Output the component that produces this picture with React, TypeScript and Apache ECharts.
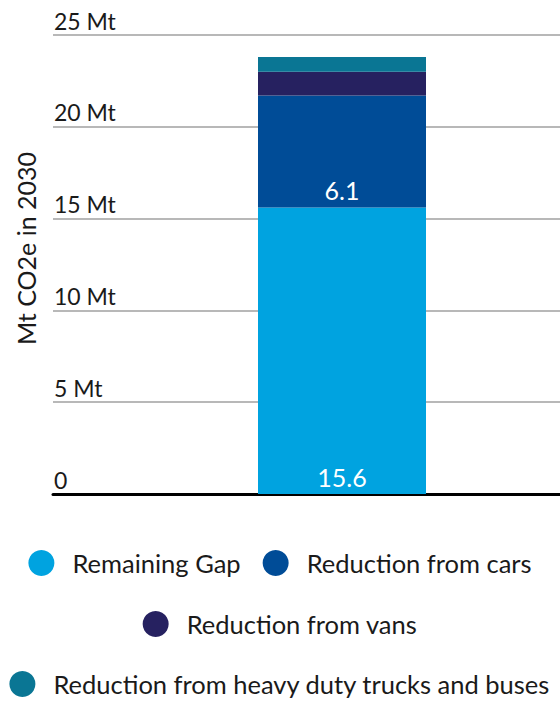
import React, { useEffect, useRef } from "react";
import * as echarts from "echarts";

const CATEGORIES = ["2030"];
const SERIES_NAMES = [
  "Remaining Gap",
  "Reduction from cars",
  "Reduction from vans",
  "Reduction from heavy duty trucks and buses",
];
const REMAINING_GAP = [15.6];
const REDUCTION_CARS = [6.1];
const REDUCTION_VANS = [1.3];
const REDUCTION_TRUCKS_BUSES = [0.8];
const LABELLED = [true, true, false, false];
const COLORS = ["#00a3e0", "#004c97", "#262160", "#0a7694"];
const Y_TICKS = [0, 5, 10, 15, 20, 25];

const FONT = "Lato, sans-serif";
const TEXT = "#1a1a1a";

export default function App() {
  const ref = useRef<HTMLDivElement>(null);

  useEffect(() => {
    document.body.style.margin = "0";
    if (!ref.current) return;
    const chart = echarts.init(ref.current, null, { renderer: "svg" });

    const values = [REMAINING_GAP, REDUCTION_CARS, REDUCTION_VANS, REDUCTION_TRUCKS_BUSES];
    const series = SERIES_NAMES.map((name, i) => ({
      name,
      type: "bar",
      xAxisIndex: 1,
      yAxisIndex: 1,
      stack: "total",
      barWidth: 168,
      data: values[i],
      itemStyle: { color: COLORS[i] },
      label: {
        show: LABELLED[i],
        position: "insideBottom",
        distance: 5,
        color: "#ffffff",
        fontFamily: FONT,
        fontSize: 25,
      },
    }));

    const legendBase = {
      left: "center",
      icon: "circle",
      itemWidth: 26,
      itemHeight: 26,
      itemGap: 22,
      padding: 0,
      selectedMode: false,
      textStyle: {
        fontFamily: FONT,
        fontSize: 25.5,
        color: TEXT,
        padding: [0, 0, 0, 13],
      },
    };

    chart.setOption({
      animation: false,
      textStyle: { fontFamily: FONT },
      grid: [
        { left: 53, right: 0, top: 35, bottom: 208 },
        { left: 124, right: 0, top: 35, bottom: 208 },
      ],
      xAxis: [
        {
          gridIndex: 0,
          type: "category",
          data: [""],
          offset: 2,
          axisLine: { show: true, lineStyle: { color: "#000000", width: 3 } },
          axisTick: { show: false },
          axisLabel: { show: false },
        },
        {
          gridIndex: 1,
          type: "category",
          data: CATEGORIES,
          show: false,
        },
      ],
      yAxis: [
        {
          gridIndex: 0,
          type: "value",
          min: Y_TICKS[0],
          max: Y_TICKS[Y_TICKS.length - 1],
          interval: 5,
          name: "Mt CO2e in 2030",
          nameLocation: "middle",
          nameRotate: 90,
          nameGap: 15,
          nameTextStyle: {
            fontFamily: FONT,
            fontSize: 25,
            color: TEXT,
            padding: [0, 0, 0, 32],
          },
          axisLine: { show: false },
          axisTick: { show: false },
          splitLine: { show: true, lineStyle: { color: "#a0a0a0", width: 1.5 } },
          axisLabel: {
            inside: true,
            margin: 1,
            verticalAlign: "bottom",
            padding: [0, 0, 3, 0],
            fontFamily: FONT,
            fontSize: 23,
            color: TEXT,
            formatter: (v: number) => (v === 0 ? "0" : `${v} Mt`),
          },
        },
        {
          gridIndex: 1,
          type: "value",
          min: Y_TICKS[0],
          max: Y_TICKS[Y_TICKS.length - 1],
          interval: 5,
          show: false,
          splitLine: { show: false },
        },
      ],
      legend: [
        { ...legendBase, top: 550, data: SERIES_NAMES.slice(0, 2) },
        { ...legendBase, top: 611, data: SERIES_NAMES.slice(2, 3) },
        { ...legendBase, top: 671, data: SERIES_NAMES.slice(3, 4) },
      ],
      series,
    });

    return () => chart.dispose();
  }, []);

  return <div ref={ref} style={{ width: 560, height: 702 }} />;
}
